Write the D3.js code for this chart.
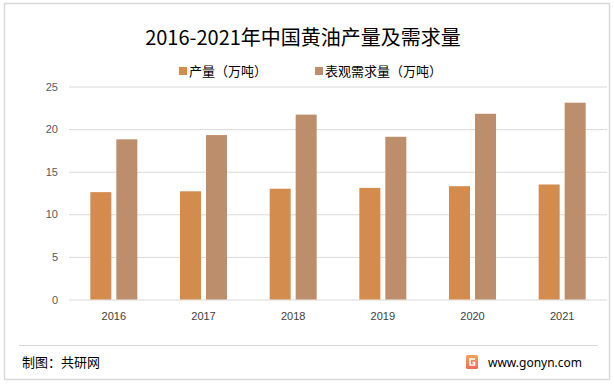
<!DOCTYPE html>
<html>
<head>
<meta charset="utf-8">
<script src="https://cdn.jsdelivr.net/npm/d3@7"></script>
<style>
  body { margin: 0; background: #fff; }
  svg { display: block; font-family: "Noto Sans CJK SC", "Noto Sans", sans-serif; }
</style>
</head>
<body>
<svg id="chart" width="614" height="385"></svg>
<script>
// ----- DATA -----
var years = ["2016", "2017", "2018", "2019", "2020", "2021"];
var production = [12.6, 12.7, 13.0, 13.1, 13.3, 13.5];
var demand = [18.8, 19.3, 21.7, 19.1, 21.8, 23.1];
var seriesNames = ["产量（万吨）", "表观需求量（万吨）"];
var yTicks = [0, 5, 10, 15, 20, 25];

var colors = ["#D38B4E", "#BD8E6C"];

var svg = d3.select("#chart");

// outer frame
svg.append("rect")
    .attr("x", 4.5).attr("y", 3.5)
    .attr("width", 605).attr("height", 376)
    .attr("fill", "#fff")
    .attr("stroke", "#d9d9d9")
    .attr("stroke-width", 1.5);

// ----- SCALES -----
var x = d3.scaleBand().domain(years).range([69, 607]);
var y = d3.scaleLinear().domain([0, 25]).range([299.5, 86.5]);

// gridlines + y labels
var yAxis = d3.axisLeft(y)
    .tickValues(yTicks)
    .tickSize(-(607 - 69))
    .tickPadding(11)
    .tickFormat(d3.format("d"));

var gy = svg.append("g")
    .attr("transform", "translate(69,0)")
    .call(yAxis);
gy.select(".domain").remove();
gy.selectAll(".tick line").attr("stroke", "#d9d9d9").attr("stroke-width", 1);
gy.selectAll(".tick text")
    .attr("fill", "#595959")
    .style("font-size", "11px")
    .style("font-family", "'Liberation Sans', Arial, sans-serif");

// ----- BARS -----
var barW = 21, barGap = 5;
var offset = (x.bandwidth() - (barW * 2 + barGap)) / 2;

[production, demand].forEach(function(vals, s) {
    svg.append("g").selectAll("rect")
        .data(vals)
        .enter().append("rect")
        .attr("x", function(d, i) { return x(years[i]) + offset + s * (barW + barGap); })
        .attr("y", function(d) { return y(d); })
        .attr("width", barW)
        .attr("height", function(d) { return y(0) - y(d); })
        .attr("fill", colors[s]);
});

// x axis labels
var xAxis = d3.axisBottom(x).tickSize(0).tickPadding(13);
var gx = svg.append("g")
    .attr("transform", "translate(0," + y(0) + ")")
    .call(xAxis);
gx.select(".domain").remove();
gx.selectAll(".tick text")
    .attr("fill", "#404040")
    .style("font-size", "11px")
    .style("font-family", "'Liberation Sans', Arial, sans-serif");

// ----- TITLE -----
svg.append("text")
    .attr("x", 303).attr("y", 45)
    .attr("text-anchor", "middle")
    .attr("fill", "#000")
    .style("font-size", "20px")
    .text("2016-2021年中国黄油产量及需求量");

// ----- LEGEND -----
var legendX = [179, 315];
seriesNames.forEach(function(name, i) {
    var g = svg.append("g").attr("transform", "translate(" + legendX[i] + ",67)");
    g.append("rect").attr("width", 8).attr("height", 8).attr("fill", colors[i]);
    g.append("text")
        .attr("x", 10).attr("y", 9)
        .attr("fill", "#000")
        .style("font-size", "13px")
        .text(name);
});

// ----- FOOTER -----
svg.append("line")
    .attr("x1", 19).attr("x2", 598)
    .attr("y1", 345.5).attr("y2", 345.5)
    .attr("stroke", "#d9d9d9");

svg.append("text")
    .attr("x", 22).attr("y", 367)
    .attr("fill", "#000")
    .style("font-size", "13px")
    .text("制图：共研网");

// logo
var grad = svg.append("defs").append("linearGradient")
    .attr("id", "logoGrad").attr("x1", 0).attr("y1", 0).attr("x2", 0).attr("y2", 1);
grad.append("stop").attr("offset", "0%").attr("stop-color", "#F5A25A");
grad.append("stop").attr("offset", "100%").attr("stop-color", "#F06A5A");
var logo = svg.append("g").attr("transform", "translate(466,355)");
logo.append("rect").attr("width", 12).attr("height", 14).attr("rx", 1.5).attr("fill", "url(#logoGrad)");
logo.append("path")
    .attr("d", "M9 4 L4 4 L4 10 L8.5 10 L8.5 7.5 L6.5 7.5")
    .attr("fill", "none").attr("stroke", "#fff").attr("stroke-width", 1.6);

svg.append("text")
    .attr("x", 488).attr("y", 367)
    .attr("fill", "#000")
    .style("font-size", "12px")
    .style("font-family", "'Noto Sans', sans-serif")
    .text("www.gonyn.com");
</script>
</body>
</html>
